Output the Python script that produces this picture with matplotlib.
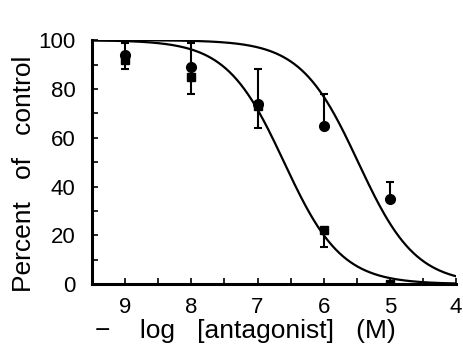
import matplotlib
matplotlib.use("Agg")
import matplotlib.pyplot as plt
import numpy as np

plt.rcParams['font.family'] = ['Liberation Sans', 'DejaVu Sans']

# -log [antagonist] (M)
conc = [9, 8, 7, 6, 5]
circles = [94, 89, 74, 65, 35]
circles_err = [5, 10, 14, 13, 7]    # drawn upward only
squares = [92, 85, 73, 22, 0]
squares_err = [4, 7, 9, 7, 0]       # drawn downward only

# fitted curves: pIC50 and Hill slope
fit_squares = (6.6, 1.0)
fit_circles = (5.48, 1.0)

xticks = [9, 8, 7, 6, 5, 4]
yticks = [0, 20, 40, 60, 80, 100]


def hill(x, p, n):
    return 100.0 / (1.0 + 10 ** (n * (p - x)))


fig = plt.figure(figsize=(4.63, 3.49), dpi=100)
ax = fig.add_axes([0.199, 0.186, 0.786, 0.699])

xs = np.linspace(9.5, 4, 300)
ax.plot(xs, hill(xs, *fit_squares), color='black', lw=1.6)
ax.plot(xs, hill(xs, *fit_circles), color='black', lw=1.6)

zeros = [0] * len(conc)
ax.errorbar(conc, circles, yerr=[zeros, circles_err], fmt='o', color='black',
            ms=7, capsize=3, elinewidth=1.5, capthick=1.5)
ax.errorbar(conc, squares, yerr=[squares_err, zeros], fmt='s', color='black',
            ms=6, capsize=3, elinewidth=1.5, capthick=1.5)

ax.set_xlim(9.5, 4)
ax.set_ylim(0, 100)
ax.set_xticks(xticks)
ax.set_xticks(np.arange(4, 9.6, 0.5), minor=True)
ax.set_yticks(yticks)
ax.set_yticks(np.arange(0, 101, 10), minor=True)

for s in ['top', 'right']:
    ax.spines[s].set_visible(False)
for s in ['left', 'bottom']:
    ax.spines[s].set_linewidth(2.2)

ax.tick_params(which='both', direction='in', width=1.2, labelsize=16)
ax.tick_params(axis='x', which='major', length=4, pad=9)
ax.tick_params(axis='y', which='major', length=4, pad=12)
ax.tick_params(which='minor', length=4)

ax.set_xlabel('−    log   [antagonist]   (M)', fontsize=19)
ax.xaxis.set_label_coords(0.42, -0.145, transform=ax.transAxes)
ax.xaxis.label.set_va('top')
ax.set_ylabel('Percent   of   control', fontsize=19)
ax.yaxis.set_label_coords(-0.155, 0.45, transform=ax.transAxes)

fig.savefig('out.png', dpi=100)
